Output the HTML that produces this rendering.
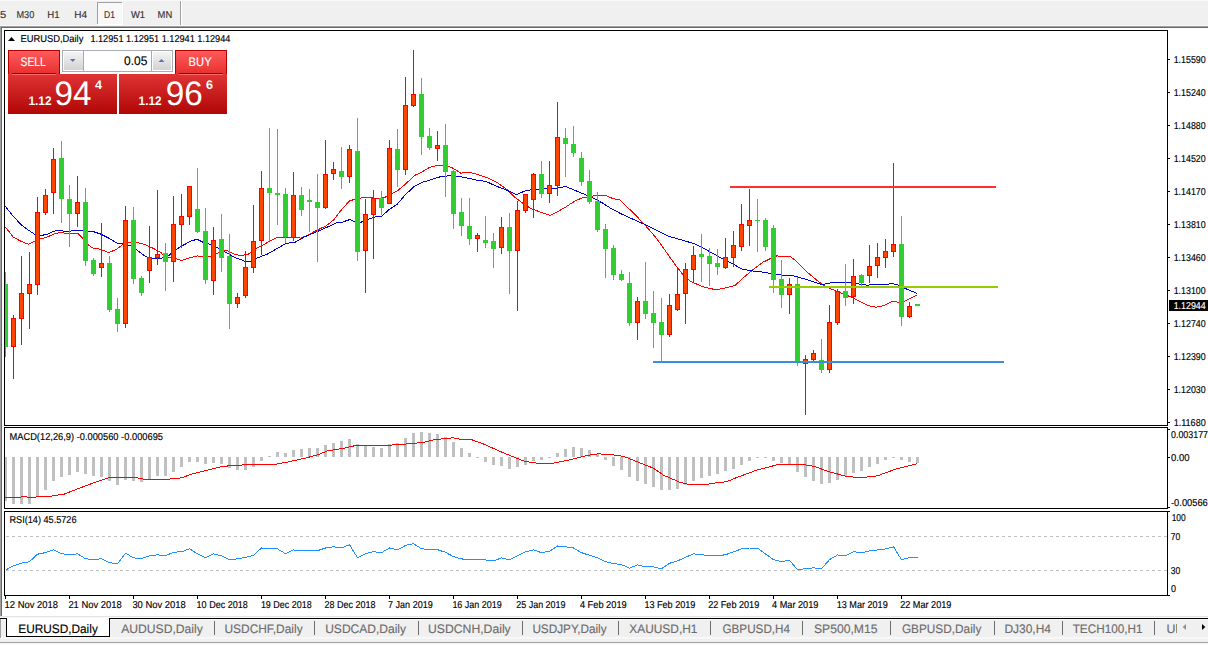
<!DOCTYPE html>
<html><head><meta charset="utf-8"><style>
html,body{margin:0;padding:0;width:1208px;height:645px;overflow:hidden;background:#f0f0f0;font-family:"Liberation Sans", sans-serif;}
svg{display:block;}
</style></head><body>
<svg width="1208" height="645" viewBox="0 0 1208 645">
<rect x="0" y="0" width="1208" height="645" fill="#f0f0f0"/>
<rect x="0" y="0" width="1208" height="1" fill="#f8f8f8"/>
<rect x="97" y="2" width="25" height="22" fill="#f8f8f8"/>
<rect x="97" y="2" width="25" height="1" fill="#a0a0a0"/>
<rect x="97" y="2" width="1" height="22" fill="#a0a0a0"/>
<rect x="122" y="2" width="1" height="23" fill="#ffffff"/>
<rect x="97" y="24" width="26" height="1" fill="#ffffff"/>
<rect x="180" y="1" width="1" height="25" fill="#a0a0a0"/>
<rect x="181" y="1" width="1" height="25" fill="#ffffff"/>
<rect x="0" y="25" width="1208" height="1" fill="#f8f8f8"/>
<rect x="0" y="26" width="1208" height="1" fill="#a0a0a0"/>
<rect x="0" y="27" width="1208" height="1" fill="#696969"/>
<rect x="2" y="28" width="1206" height="588" fill="#ffffff"/>
<rect x="0" y="26" width="1" height="590" fill="#a0a0a0"/>
<rect x="1" y="27" width="1" height="589" fill="#696969"/>
<rect x="0" y="616" width="1208" height="1" fill="#e3e3e3"/>
<rect x="0" y="617" width="1208" height="1" fill="#f8f8f8"/>
<rect x="0" y="618" width="1208" height="1" fill="#000000"/>
<rect x="0" y="619" width="1208" height="1" fill="#f8f8f8"/>
<rect x="0" y="637" width="1208" height="2" fill="#f8f8f8"/>
<rect x="0" y="642" width="1208" height="1" fill="#a0a0a0"/>
<rect x="0" y="643" width="1208" height="2" fill="#f8f8f8"/>
<rect x="0" y="619" width="1" height="19" fill="#a0a0a0"/>
<rect x="6" y="618" width="104" height="19" fill="#000000"/>
<rect x="7" y="618" width="102" height="18" fill="#ffffff"/>
<rect x="4" y="30" width="1164" height="1" fill="#000"/>
<rect x="4" y="425" width="1164" height="1" fill="#000"/>
<rect x="4" y="30" width="1" height="396" fill="#000"/>
<rect x="1167" y="30" width="1" height="396" fill="#000"/>
<rect x="4" y="427" width="1164" height="1" fill="#000"/>
<rect x="4" y="508" width="1164" height="1" fill="#000"/>
<rect x="4" y="427" width="1" height="82" fill="#000"/>
<rect x="1167" y="427" width="1" height="82" fill="#000"/>
<rect x="4" y="511" width="1164" height="1" fill="#000"/>
<rect x="4" y="595" width="1164" height="1" fill="#000"/>
<rect x="4" y="511" width="1" height="85" fill="#000"/>
<rect x="1167" y="511" width="1" height="85" fill="#000"/>
<defs><clipPath id="cm"><rect x="5" y="31" width="1162" height="394"/></clipPath><clipPath id="cd"><rect x="5" y="428" width="1162" height="80"/></clipPath><clipPath id="cr"><rect x="5" y="512" width="1162" height="83"/></clipPath></defs>
<g clip-path="url(#cm)">
<polyline points="5.3,226.8 13.2,237.1 21.2,241.4 28.5,244.3 34.4,241.4 39.7,239.0 46.4,237.4 55.6,233.4 60.9,232.4 66.2,233.4 78.1,233.4 82.1,237.4 88.1,244.7 92.7,248.0 100.7,249.3 108.6,252.6 116.6,249.3 123.2,244.0 129.1,242.0 137.7,242.7 145.7,244.7 153.6,248.6 160.3,252.0 165.6,257.3 173.5,258.0 181.5,260.4 189.4,258.0 197.4,256.0 204.0,256.4 210.6,256.4 218.6,252.7 226.5,250.3 234.5,254.3 239.8,255.3 247.7,254.7 255.7,248.7 263.6,244.7 271.6,240.1 278.2,237.0 286.1,237.5 292.7,236.8 300.7,238.1 307.3,235.5 314.0,231.8 325.9,225.9 333.8,219.9 341.8,209.3 349.7,200.7 355.0,199.4 363.0,197.6 369.6,197.4 378.9,198.7 386.8,196.7 392.1,193.4 397.4,191.0 405.4,184.1 414.6,175.5 422.6,171.6 429.2,167.6 437.2,165.3 445.1,165.3 453.0,168.2 461.0,173.3 465.0,172.2 471.6,172.8 480.9,175.6 488.8,178.3 498.1,183.2 507.4,189.8 515.3,197.7 523.3,203.7 531.2,208.7 540.5,212.1 549.8,215.4 557.7,211.7 565.7,207.0 574.9,201.1 581.6,198.1 588.2,197.1 594.8,195.5 605.4,195.5 613.3,198.7 620.0,200.0 629.3,209.0 638.6,218.3 647.9,228.3 657.2,239.2 666.5,252.4 675.8,265.5 683.6,275.6 691.3,281.8 702.2,286.5 716.1,289.9 728.5,287.2 734.7,285.7 744.0,277.2 753.3,269.4 762.6,262.4 771.9,257.8 776.6,256.0 789.9,256.2 796.5,261.3 808.4,273.2 816.4,279.8 823.0,285.1 829.6,288.4 838.9,292.1 849.5,296.4 857.4,300.3 868.0,305.6 876.0,307.2 883.9,305.6 893.2,301.0 898.5,302.3 903.8,301.7 910.4,298.3 917.0,295.0" fill="none" stroke="#ff0000" stroke-width="1" shape-rendering="crispEdges"/>
<polyline points="5.3,206.3 13.2,216.2 21.2,224.8 27.8,229.7 34.4,234.1 39.7,235.4 46.4,234.7 53.0,231.4 58.3,230.5 66.2,231.4 74.2,230.8 82.1,230.8 92.7,231.4 100.7,234.1 108.6,238.0 116.6,243.0 124.5,243.7 131.1,246.0 137.7,250.6 145.7,256.6 153.6,258.6 161.6,258.2 168.2,256.0 176.2,249.4 184.1,244.7 192.1,240.5 197.4,239.4 204.0,242.7 210.6,244.5 217.3,247.4 225.2,252.0 234.5,257.3 245.1,261.3 250.4,261.3 257.0,258.0 267.6,254.0 276.9,248.7 286.1,243.4 295.4,242.1 304.7,236.8 310.0,234.5 318.0,231.2 327.2,227.2 336.5,222.8 341.8,222.3 349.7,219.6 355.0,221.9 360.3,222.5 368.3,219.2 376.2,216.6 381.5,216.2 389.5,209.3 397.4,204.0 405.4,194.7 414.6,186.1 422.6,182.2 431.9,179.5 439.8,176.9 450.4,175.5 459.7,176.5 470.0,178.6 475.6,179.9 486.2,181.5 495.5,185.8 507.4,190.5 516.7,194.7 524.6,191.1 531.2,189.8 544.5,188.9 557.7,188.1 565.7,186.5 573.6,189.8 584.2,194.2 592.2,197.7 601.4,202.4 610.7,208.3 617.3,211.7 620.0,213.3 632.4,219.0 644.8,224.5 657.2,230.7 669.6,236.6 682.0,240.0 694.4,243.8 706.8,250.0 719.2,257.0 731.6,263.2 742.5,269.4 753.3,271.0 765.7,272.5 776.6,274.9 791.2,275.2 800.5,277.8 809.7,280.5 821.7,284.7 833.6,282.2 841.5,282.2 852.1,283.1 866.7,285.1 876.0,284.7 886.6,284.4 891.9,283.4 897.2,284.7 905.1,288.4 917.0,293.4" fill="none" stroke="#0000cd" stroke-width="1" shape-rendering="crispEdges"/>
<g shape-rendering="crispEdges">
<rect x="5" y="272" width="1" height="85" fill="#32cd32"/>
<rect x="3" y="284" width="5" height="63" fill="#32cd32"/>
<rect x="13" y="315" width="1" height="64" fill="#ff0000"/>
<rect x="11" y="318" width="5" height="29" fill="#ff0000"/>
<rect x="12" y="319" width="3" height="27" fill="#ff4500"/>
<rect x="21" y="256" width="1" height="89" fill="#ff0000"/>
<rect x="19" y="293" width="5" height="26" fill="#ff0000"/>
<rect x="20" y="294" width="3" height="24" fill="#ff4500"/>
<rect x="29" y="252" width="1" height="77" fill="#ff0000"/>
<rect x="27" y="284" width="5" height="10" fill="#ff0000"/>
<rect x="28" y="285" width="3" height="8" fill="#ff4500"/>
<rect x="37" y="197" width="1" height="98" fill="#ff0000"/>
<rect x="35" y="212" width="5" height="73" fill="#ff0000"/>
<rect x="36" y="213" width="3" height="71" fill="#ff4500"/>
<rect x="45" y="189" width="1" height="26" fill="#ff0000"/>
<rect x="43" y="195" width="5" height="18" fill="#ff0000"/>
<rect x="44" y="196" width="3" height="16" fill="#ff4500"/>
<rect x="53" y="148" width="1" height="66" fill="#ff0000"/>
<rect x="51" y="159" width="5" height="34" fill="#ff0000"/>
<rect x="52" y="160" width="3" height="32" fill="#ff4500"/>
<rect x="61" y="141" width="1" height="82" fill="#32cd32"/>
<rect x="59" y="158" width="5" height="41" fill="#32cd32"/>
<rect x="69" y="185" width="1" height="62" fill="#32cd32"/>
<rect x="67" y="199" width="5" height="15" fill="#32cd32"/>
<rect x="77" y="176" width="1" height="51" fill="#ff0000"/>
<rect x="75" y="202" width="5" height="12" fill="#ff0000"/>
<rect x="76" y="203" width="3" height="10" fill="#ff4500"/>
<rect x="85" y="188" width="1" height="78" fill="#32cd32"/>
<rect x="83" y="202" width="5" height="59" fill="#32cd32"/>
<rect x="93" y="258" width="1" height="18" fill="#32cd32"/>
<rect x="91" y="260" width="5" height="14" fill="#32cd32"/>
<rect x="101" y="223" width="1" height="54" fill="#ff0000"/>
<rect x="99" y="263" width="5" height="5" fill="#ff0000"/>
<rect x="100" y="264" width="3" height="3" fill="#ff4500"/>
<rect x="109" y="256" width="1" height="56" fill="#32cd32"/>
<rect x="107" y="263" width="5" height="47" fill="#32cd32"/>
<rect x="117" y="298" width="1" height="34" fill="#32cd32"/>
<rect x="115" y="309" width="5" height="15" fill="#32cd32"/>
<rect x="125" y="206" width="1" height="122" fill="#ff0000"/>
<rect x="123" y="220" width="5" height="104" fill="#ff0000"/>
<rect x="124" y="221" width="3" height="102" fill="#ff4500"/>
<rect x="133" y="207" width="1" height="77" fill="#32cd32"/>
<rect x="131" y="220" width="5" height="59" fill="#32cd32"/>
<rect x="141" y="276" width="1" height="20" fill="#32cd32"/>
<rect x="139" y="278" width="5" height="15" fill="#32cd32"/>
<rect x="149" y="226" width="1" height="57" fill="#ff0000"/>
<rect x="147" y="257" width="5" height="14" fill="#ff0000"/>
<rect x="148" y="258" width="3" height="12" fill="#ff4500"/>
<rect x="157" y="190" width="1" height="75" fill="#ff0000"/>
<rect x="155" y="254" width="5" height="4" fill="#ff0000"/>
<rect x="156" y="255" width="3" height="2" fill="#ff4500"/>
<rect x="165" y="243" width="1" height="48" fill="#32cd32"/>
<rect x="163" y="253" width="5" height="9" fill="#32cd32"/>
<rect x="173" y="196" width="1" height="86" fill="#ff0000"/>
<rect x="171" y="224" width="5" height="38" fill="#ff0000"/>
<rect x="172" y="225" width="3" height="36" fill="#ff4500"/>
<rect x="181" y="194" width="1" height="54" fill="#ff0000"/>
<rect x="179" y="216" width="5" height="9" fill="#ff0000"/>
<rect x="180" y="217" width="3" height="7" fill="#ff4500"/>
<rect x="189" y="186" width="1" height="39" fill="#ff0000"/>
<rect x="187" y="186" width="5" height="31" fill="#ff0000"/>
<rect x="188" y="187" width="3" height="29" fill="#ff4500"/>
<rect x="197" y="168" width="1" height="65" fill="#32cd32"/>
<rect x="195" y="209" width="5" height="23" fill="#32cd32"/>
<rect x="205" y="208" width="1" height="76" fill="#32cd32"/>
<rect x="203" y="231" width="5" height="49" fill="#32cd32"/>
<rect x="213" y="227" width="1" height="68" fill="#ff0000"/>
<rect x="211" y="240" width="5" height="41" fill="#ff0000"/>
<rect x="212" y="241" width="3" height="39" fill="#ff4500"/>
<rect x="221" y="214" width="1" height="58" fill="#32cd32"/>
<rect x="219" y="239" width="5" height="19" fill="#32cd32"/>
<rect x="229" y="234" width="1" height="95" fill="#32cd32"/>
<rect x="227" y="256" width="5" height="48" fill="#32cd32"/>
<rect x="237" y="293" width="1" height="15" fill="#ff0000"/>
<rect x="235" y="297" width="5" height="7" fill="#ff0000"/>
<rect x="236" y="298" width="3" height="5" fill="#ff4500"/>
<rect x="245" y="251" width="1" height="47" fill="#ff0000"/>
<rect x="243" y="267" width="5" height="29" fill="#ff0000"/>
<rect x="244" y="268" width="3" height="27" fill="#ff4500"/>
<rect x="253" y="205" width="1" height="68" fill="#ff0000"/>
<rect x="251" y="241" width="5" height="27" fill="#ff0000"/>
<rect x="252" y="242" width="3" height="25" fill="#ff4500"/>
<rect x="261" y="171" width="1" height="84" fill="#ff0000"/>
<rect x="259" y="188" width="5" height="53" fill="#ff0000"/>
<rect x="260" y="189" width="3" height="51" fill="#ff4500"/>
<rect x="269" y="128" width="1" height="113" fill="#32cd32"/>
<rect x="267" y="188" width="5" height="5" fill="#32cd32"/>
<rect x="277" y="129" width="1" height="96" fill="#32cd32"/>
<rect x="275" y="193" width="5" height="2" fill="#32cd32"/>
<rect x="285" y="188" width="1" height="55" fill="#32cd32"/>
<rect x="283" y="194" width="5" height="43" fill="#32cd32"/>
<rect x="293" y="172" width="1" height="69" fill="#ff0000"/>
<rect x="291" y="195" width="5" height="43" fill="#ff0000"/>
<rect x="292" y="196" width="3" height="41" fill="#ff4500"/>
<rect x="301" y="187" width="1" height="29" fill="#32cd32"/>
<rect x="299" y="195" width="5" height="15" fill="#32cd32"/>
<rect x="309" y="189" width="1" height="43" fill="#32cd32"/>
<rect x="307" y="200" width="5" height="2" fill="#32cd32"/>
<rect x="317" y="174" width="1" height="88" fill="#32cd32"/>
<rect x="315" y="202" width="5" height="6" fill="#32cd32"/>
<rect x="325" y="140" width="1" height="69" fill="#ff0000"/>
<rect x="323" y="174" width="5" height="34" fill="#ff0000"/>
<rect x="324" y="175" width="3" height="32" fill="#ff4500"/>
<rect x="333" y="162" width="1" height="18" fill="#ff0000"/>
<rect x="331" y="169" width="5" height="5" fill="#ff0000"/>
<rect x="332" y="170" width="3" height="3" fill="#ff4500"/>
<rect x="341" y="147" width="1" height="42" fill="#32cd32"/>
<rect x="339" y="171" width="5" height="6" fill="#32cd32"/>
<rect x="349" y="145" width="1" height="38" fill="#ff0000"/>
<rect x="347" y="149" width="5" height="28" fill="#ff0000"/>
<rect x="348" y="150" width="3" height="26" fill="#ff4500"/>
<rect x="357" y="118" width="1" height="143" fill="#32cd32"/>
<rect x="355" y="151" width="5" height="101" fill="#32cd32"/>
<rect x="365" y="199" width="1" height="94" fill="#ff0000"/>
<rect x="363" y="214" width="5" height="37" fill="#ff0000"/>
<rect x="364" y="215" width="3" height="35" fill="#ff4500"/>
<rect x="373" y="190" width="1" height="69" fill="#ff0000"/>
<rect x="371" y="198" width="5" height="17" fill="#ff0000"/>
<rect x="372" y="199" width="3" height="15" fill="#ff4500"/>
<rect x="381" y="191" width="1" height="24" fill="#32cd32"/>
<rect x="379" y="198" width="5" height="10" fill="#32cd32"/>
<rect x="389" y="140" width="1" height="63" fill="#ff0000"/>
<rect x="387" y="148" width="5" height="56" fill="#ff0000"/>
<rect x="388" y="149" width="3" height="54" fill="#ff4500"/>
<rect x="397" y="129" width="1" height="58" fill="#32cd32"/>
<rect x="395" y="149" width="5" height="21" fill="#32cd32"/>
<rect x="405" y="77" width="1" height="98" fill="#ff0000"/>
<rect x="403" y="105" width="5" height="65" fill="#ff0000"/>
<rect x="404" y="106" width="3" height="63" fill="#ff4500"/>
<rect x="413" y="50" width="1" height="57" fill="#ff0000"/>
<rect x="411" y="94" width="5" height="12" fill="#ff0000"/>
<rect x="412" y="95" width="3" height="10" fill="#ff4500"/>
<rect x="421" y="78" width="1" height="77" fill="#32cd32"/>
<rect x="419" y="94" width="5" height="43" fill="#32cd32"/>
<rect x="429" y="128" width="1" height="22" fill="#32cd32"/>
<rect x="427" y="136" width="5" height="12" fill="#32cd32"/>
<rect x="437" y="131" width="1" height="30" fill="#ff0000"/>
<rect x="435" y="145" width="5" height="4" fill="#ff0000"/>
<rect x="436" y="146" width="3" height="2" fill="#ff4500"/>
<rect x="445" y="124" width="1" height="73" fill="#32cd32"/>
<rect x="443" y="145" width="5" height="27" fill="#32cd32"/>
<rect x="453" y="170" width="1" height="59" fill="#32cd32"/>
<rect x="451" y="171" width="5" height="43" fill="#32cd32"/>
<rect x="461" y="198" width="1" height="38" fill="#32cd32"/>
<rect x="459" y="212" width="5" height="14" fill="#32cd32"/>
<rect x="469" y="198" width="1" height="47" fill="#32cd32"/>
<rect x="467" y="226" width="5" height="13" fill="#32cd32"/>
<rect x="477" y="233" width="1" height="19" fill="#ff0000"/>
<rect x="475" y="235" width="5" height="4" fill="#ff0000"/>
<rect x="476" y="236" width="3" height="2" fill="#ff4500"/>
<rect x="485" y="216" width="1" height="32" fill="#32cd32"/>
<rect x="483" y="240" width="5" height="3" fill="#32cd32"/>
<rect x="493" y="233" width="1" height="35" fill="#32cd32"/>
<rect x="491" y="241" width="5" height="8" fill="#32cd32"/>
<rect x="501" y="217" width="1" height="37" fill="#ff0000"/>
<rect x="499" y="227" width="5" height="21" fill="#ff0000"/>
<rect x="500" y="228" width="3" height="19" fill="#ff4500"/>
<rect x="509" y="213" width="1" height="81" fill="#32cd32"/>
<rect x="507" y="227" width="5" height="24" fill="#32cd32"/>
<rect x="517" y="201" width="1" height="110" fill="#ff0000"/>
<rect x="515" y="210" width="5" height="41" fill="#ff0000"/>
<rect x="516" y="211" width="3" height="39" fill="#ff4500"/>
<rect x="525" y="194" width="1" height="19" fill="#ff0000"/>
<rect x="523" y="194" width="5" height="17" fill="#ff0000"/>
<rect x="524" y="195" width="3" height="15" fill="#ff4500"/>
<rect x="533" y="173" width="1" height="45" fill="#ff0000"/>
<rect x="531" y="174" width="5" height="26" fill="#ff0000"/>
<rect x="532" y="175" width="3" height="24" fill="#ff4500"/>
<rect x="541" y="161" width="1" height="37" fill="#32cd32"/>
<rect x="539" y="174" width="5" height="20" fill="#32cd32"/>
<rect x="549" y="161" width="1" height="42" fill="#ff0000"/>
<rect x="547" y="185" width="5" height="9" fill="#ff0000"/>
<rect x="548" y="186" width="3" height="7" fill="#ff4500"/>
<rect x="557" y="102" width="1" height="94" fill="#ff0000"/>
<rect x="555" y="137" width="5" height="49" fill="#ff0000"/>
<rect x="556" y="138" width="3" height="47" fill="#ff4500"/>
<rect x="565" y="128" width="1" height="49" fill="#32cd32"/>
<rect x="563" y="138" width="5" height="6" fill="#32cd32"/>
<rect x="573" y="126" width="1" height="31" fill="#32cd32"/>
<rect x="571" y="144" width="5" height="9" fill="#32cd32"/>
<rect x="581" y="152" width="1" height="34" fill="#32cd32"/>
<rect x="579" y="158" width="5" height="24" fill="#32cd32"/>
<rect x="589" y="170" width="1" height="34" fill="#32cd32"/>
<rect x="587" y="181" width="5" height="21" fill="#32cd32"/>
<rect x="597" y="192" width="1" height="40" fill="#32cd32"/>
<rect x="595" y="201" width="5" height="29" fill="#32cd32"/>
<rect x="605" y="224" width="1" height="54" fill="#32cd32"/>
<rect x="603" y="229" width="5" height="20" fill="#32cd32"/>
<rect x="613" y="245" width="1" height="35" fill="#32cd32"/>
<rect x="611" y="248" width="5" height="27" fill="#32cd32"/>
<rect x="621" y="270" width="1" height="11" fill="#32cd32"/>
<rect x="619" y="274" width="5" height="6" fill="#32cd32"/>
<rect x="629" y="272" width="1" height="54" fill="#32cd32"/>
<rect x="627" y="283" width="5" height="40" fill="#32cd32"/>
<rect x="637" y="297" width="1" height="43" fill="#ff0000"/>
<rect x="635" y="301" width="5" height="22" fill="#ff0000"/>
<rect x="636" y="302" width="3" height="20" fill="#ff4500"/>
<rect x="645" y="262" width="1" height="57" fill="#32cd32"/>
<rect x="643" y="301" width="5" height="13" fill="#32cd32"/>
<rect x="653" y="291" width="1" height="57" fill="#32cd32"/>
<rect x="651" y="313" width="5" height="10" fill="#32cd32"/>
<rect x="661" y="298" width="1" height="63" fill="#32cd32"/>
<rect x="659" y="322" width="5" height="13" fill="#32cd32"/>
<rect x="669" y="294" width="1" height="43" fill="#ff0000"/>
<rect x="667" y="305" width="5" height="30" fill="#ff0000"/>
<rect x="668" y="306" width="3" height="28" fill="#ff4500"/>
<rect x="677" y="269" width="1" height="42" fill="#ff0000"/>
<rect x="675" y="294" width="5" height="16" fill="#ff0000"/>
<rect x="676" y="295" width="3" height="14" fill="#ff4500"/>
<rect x="685" y="263" width="1" height="61" fill="#ff0000"/>
<rect x="683" y="269" width="5" height="25" fill="#ff0000"/>
<rect x="684" y="270" width="3" height="23" fill="#ff4500"/>
<rect x="693" y="246" width="1" height="36" fill="#ff0000"/>
<rect x="691" y="255" width="5" height="15" fill="#ff0000"/>
<rect x="692" y="256" width="3" height="13" fill="#ff4500"/>
<rect x="701" y="234" width="1" height="48" fill="#32cd32"/>
<rect x="699" y="254" width="5" height="3" fill="#32cd32"/>
<rect x="709" y="248" width="1" height="38" fill="#32cd32"/>
<rect x="707" y="256" width="5" height="8" fill="#32cd32"/>
<rect x="717" y="249" width="1" height="26" fill="#32cd32"/>
<rect x="715" y="263" width="5" height="4" fill="#32cd32"/>
<rect x="725" y="238" width="1" height="31" fill="#ff0000"/>
<rect x="723" y="257" width="5" height="11" fill="#ff0000"/>
<rect x="724" y="258" width="3" height="9" fill="#ff4500"/>
<rect x="733" y="231" width="1" height="36" fill="#ff0000"/>
<rect x="731" y="245" width="5" height="13" fill="#ff0000"/>
<rect x="732" y="246" width="3" height="11" fill="#ff4500"/>
<rect x="741" y="204" width="1" height="47" fill="#ff0000"/>
<rect x="739" y="224" width="5" height="23" fill="#ff0000"/>
<rect x="740" y="225" width="3" height="21" fill="#ff4500"/>
<rect x="749" y="189" width="1" height="57" fill="#ff0000"/>
<rect x="747" y="220" width="5" height="6" fill="#ff0000"/>
<rect x="748" y="221" width="3" height="4" fill="#ff4500"/>
<rect x="757" y="199" width="1" height="53" fill="#32cd32"/>
<rect x="755" y="220" width="5" height="1" fill="#32cd32"/>
<rect x="765" y="218" width="1" height="33" fill="#32cd32"/>
<rect x="763" y="220" width="5" height="27" fill="#32cd32"/>
<rect x="773" y="225" width="1" height="68" fill="#32cd32"/>
<rect x="771" y="228" width="5" height="52" fill="#32cd32"/>
<rect x="781" y="260" width="1" height="48" fill="#32cd32"/>
<rect x="779" y="279" width="5" height="16" fill="#32cd32"/>
<rect x="789" y="278" width="1" height="36" fill="#ff0000"/>
<rect x="787" y="284" width="5" height="11" fill="#ff0000"/>
<rect x="788" y="285" width="3" height="9" fill="#ff4500"/>
<rect x="797" y="277" width="1" height="89" fill="#32cd32"/>
<rect x="795" y="284" width="5" height="79" fill="#32cd32"/>
<rect x="805" y="355" width="1" height="60" fill="#ff0000"/>
<rect x="803" y="359" width="5" height="5" fill="#ff0000"/>
<rect x="804" y="360" width="3" height="3" fill="#ff4500"/>
<rect x="813" y="350" width="1" height="11" fill="#ff0000"/>
<rect x="811" y="353" width="5" height="7" fill="#ff0000"/>
<rect x="812" y="354" width="3" height="5" fill="#ff4500"/>
<rect x="821" y="339" width="1" height="34" fill="#32cd32"/>
<rect x="819" y="360" width="5" height="10" fill="#32cd32"/>
<rect x="829" y="305" width="1" height="68" fill="#ff0000"/>
<rect x="827" y="322" width="5" height="48" fill="#ff0000"/>
<rect x="828" y="323" width="3" height="46" fill="#ff4500"/>
<rect x="837" y="289" width="1" height="36" fill="#ff0000"/>
<rect x="835" y="291" width="5" height="32" fill="#ff0000"/>
<rect x="836" y="292" width="3" height="30" fill="#ff4500"/>
<rect x="845" y="264" width="1" height="42" fill="#32cd32"/>
<rect x="843" y="291" width="5" height="7" fill="#32cd32"/>
<rect x="853" y="259" width="1" height="45" fill="#ff0000"/>
<rect x="851" y="276" width="5" height="21" fill="#ff0000"/>
<rect x="852" y="277" width="3" height="19" fill="#ff4500"/>
<rect x="861" y="274" width="1" height="12" fill="#32cd32"/>
<rect x="859" y="275" width="5" height="8" fill="#32cd32"/>
<rect x="869" y="245" width="1" height="38" fill="#ff0000"/>
<rect x="867" y="266" width="5" height="10" fill="#ff0000"/>
<rect x="868" y="267" width="3" height="8" fill="#ff4500"/>
<rect x="877" y="243" width="1" height="35" fill="#ff0000"/>
<rect x="875" y="257" width="5" height="9" fill="#ff0000"/>
<rect x="876" y="258" width="3" height="7" fill="#ff4500"/>
<rect x="885" y="239" width="1" height="29" fill="#ff0000"/>
<rect x="883" y="251" width="5" height="7" fill="#ff0000"/>
<rect x="884" y="252" width="3" height="5" fill="#ff4500"/>
<rect x="893" y="163" width="1" height="94" fill="#ff0000"/>
<rect x="891" y="244" width="5" height="8" fill="#ff0000"/>
<rect x="892" y="245" width="3" height="6" fill="#ff4500"/>
<rect x="901" y="216" width="1" height="110" fill="#32cd32"/>
<rect x="899" y="244" width="5" height="73" fill="#32cd32"/>
<rect x="909" y="302" width="1" height="16" fill="#ff0000"/>
<rect x="907" y="306" width="5" height="11" fill="#ff0000"/>
<rect x="908" y="307" width="3" height="9" fill="#ff4500"/>
<rect x="917" y="304" width="1" height="2" fill="#32cd32"/>
<rect x="915" y="304" width="5" height="2" fill="#32cd32"/>
</g>
<rect x="730" y="186" width="266" height="2" fill="#ff3030"/>
<rect x="769" y="286" width="229" height="2" fill="#96cc00"/>
<rect x="653" y="361" width="351" height="2" fill="#3a8ee0"/>
</g>
<g clip-path="url(#cd)" shape-rendering="crispEdges">
<rect x="4" y="457" width="3" height="44" fill="#c0c0c0"/>
<rect x="12" y="457" width="3" height="47" fill="#c0c0c0"/>
<rect x="20" y="457" width="3" height="47" fill="#c0c0c0"/>
<rect x="28" y="457" width="3" height="47" fill="#c0c0c0"/>
<rect x="36" y="457" width="3" height="39" fill="#c0c0c0"/>
<rect x="44" y="457" width="3" height="33" fill="#c0c0c0"/>
<rect x="52" y="457" width="3" height="24" fill="#c0c0c0"/>
<rect x="60" y="457" width="3" height="20" fill="#c0c0c0"/>
<rect x="68" y="457" width="3" height="18" fill="#c0c0c0"/>
<rect x="76" y="457" width="3" height="15" fill="#c0c0c0"/>
<rect x="84" y="457" width="3" height="17" fill="#c0c0c0"/>
<rect x="92" y="457" width="3" height="19" fill="#c0c0c0"/>
<rect x="100" y="457" width="3" height="20" fill="#c0c0c0"/>
<rect x="108" y="457" width="3" height="24" fill="#c0c0c0"/>
<rect x="116" y="457" width="3" height="28" fill="#c0c0c0"/>
<rect x="124" y="457" width="3" height="23" fill="#c0c0c0"/>
<rect x="132" y="457" width="3" height="24" fill="#c0c0c0"/>
<rect x="140" y="457" width="3" height="25" fill="#c0c0c0"/>
<rect x="148" y="457" width="3" height="22" fill="#c0c0c0"/>
<rect x="156" y="457" width="3" height="19" fill="#c0c0c0"/>
<rect x="164" y="457" width="3" height="19" fill="#c0c0c0"/>
<rect x="172" y="457" width="3" height="15" fill="#c0c0c0"/>
<rect x="180" y="457" width="3" height="10" fill="#c0c0c0"/>
<rect x="188" y="457" width="3" height="5" fill="#c0c0c0"/>
<rect x="196" y="457" width="3" height="5" fill="#c0c0c0"/>
<rect x="204" y="457" width="3" height="7" fill="#c0c0c0"/>
<rect x="212" y="457" width="3" height="6" fill="#c0c0c0"/>
<rect x="220" y="457" width="3" height="7" fill="#c0c0c0"/>
<rect x="228" y="457" width="3" height="11" fill="#c0c0c0"/>
<rect x="236" y="457" width="3" height="13" fill="#c0c0c0"/>
<rect x="244" y="457" width="3" height="13" fill="#c0c0c0"/>
<rect x="252" y="457" width="3" height="10" fill="#c0c0c0"/>
<rect x="260" y="457" width="3" height="4" fill="#c0c0c0"/>
<rect x="268" y="456" width="3" height="1" fill="#c0c0c0"/>
<rect x="276" y="452" width="3" height="5" fill="#c0c0c0"/>
<rect x="284" y="453" width="3" height="4" fill="#c0c0c0"/>
<rect x="292" y="450" width="3" height="7" fill="#c0c0c0"/>
<rect x="300" y="449" width="3" height="8" fill="#c0c0c0"/>
<rect x="308" y="448" width="3" height="9" fill="#c0c0c0"/>
<rect x="316" y="448" width="3" height="9" fill="#c0c0c0"/>
<rect x="324" y="445" width="3" height="12" fill="#c0c0c0"/>
<rect x="332" y="443" width="3" height="14" fill="#c0c0c0"/>
<rect x="340" y="441" width="3" height="16" fill="#c0c0c0"/>
<rect x="348" y="439" width="3" height="18" fill="#c0c0c0"/>
<rect x="356" y="444" width="3" height="13" fill="#c0c0c0"/>
<rect x="364" y="446" width="3" height="11" fill="#c0c0c0"/>
<rect x="372" y="447" width="3" height="10" fill="#c0c0c0"/>
<rect x="380" y="448" width="3" height="9" fill="#c0c0c0"/>
<rect x="388" y="444" width="3" height="13" fill="#c0c0c0"/>
<rect x="396" y="443" width="3" height="14" fill="#c0c0c0"/>
<rect x="404" y="438" width="3" height="19" fill="#c0c0c0"/>
<rect x="412" y="433" width="3" height="24" fill="#c0c0c0"/>
<rect x="420" y="432" width="3" height="25" fill="#c0c0c0"/>
<rect x="428" y="433" width="3" height="24" fill="#c0c0c0"/>
<rect x="436" y="434" width="3" height="23" fill="#c0c0c0"/>
<rect x="444" y="437" width="3" height="20" fill="#c0c0c0"/>
<rect x="452" y="442" width="3" height="15" fill="#c0c0c0"/>
<rect x="460" y="448" width="3" height="9" fill="#c0c0c0"/>
<rect x="468" y="453" width="3" height="4" fill="#c0c0c0"/>
<rect x="476" y="457" width="3" height="1" fill="#c0c0c0"/>
<rect x="484" y="457" width="3" height="5" fill="#c0c0c0"/>
<rect x="492" y="457" width="3" height="8" fill="#c0c0c0"/>
<rect x="500" y="457" width="3" height="9" fill="#c0c0c0"/>
<rect x="508" y="457" width="3" height="12" fill="#c0c0c0"/>
<rect x="516" y="457" width="3" height="10" fill="#c0c0c0"/>
<rect x="524" y="457" width="3" height="8" fill="#c0c0c0"/>
<rect x="532" y="457" width="3" height="4" fill="#c0c0c0"/>
<rect x="540" y="457" width="3" height="3" fill="#c0c0c0"/>
<rect x="548" y="457" width="3" height="1" fill="#c0c0c0"/>
<rect x="556" y="453" width="3" height="4" fill="#c0c0c0"/>
<rect x="564" y="449" width="3" height="8" fill="#c0c0c0"/>
<rect x="572" y="447" width="3" height="10" fill="#c0c0c0"/>
<rect x="580" y="448" width="3" height="9" fill="#c0c0c0"/>
<rect x="588" y="450" width="3" height="7" fill="#c0c0c0"/>
<rect x="596" y="454" width="3" height="3" fill="#c0c0c0"/>
<rect x="604" y="457" width="3" height="3" fill="#c0c0c0"/>
<rect x="612" y="457" width="3" height="9" fill="#c0c0c0"/>
<rect x="620" y="457" width="3" height="13" fill="#c0c0c0"/>
<rect x="628" y="457" width="3" height="20" fill="#c0c0c0"/>
<rect x="636" y="457" width="3" height="24" fill="#c0c0c0"/>
<rect x="644" y="457" width="3" height="27" fill="#c0c0c0"/>
<rect x="652" y="457" width="3" height="30" fill="#c0c0c0"/>
<rect x="660" y="457" width="3" height="33" fill="#c0c0c0"/>
<rect x="668" y="457" width="3" height="33" fill="#c0c0c0"/>
<rect x="676" y="457" width="3" height="32" fill="#c0c0c0"/>
<rect x="684" y="457" width="3" height="28" fill="#c0c0c0"/>
<rect x="692" y="457" width="3" height="24" fill="#c0c0c0"/>
<rect x="700" y="457" width="3" height="21" fill="#c0c0c0"/>
<rect x="708" y="457" width="3" height="19" fill="#c0c0c0"/>
<rect x="716" y="457" width="3" height="17" fill="#c0c0c0"/>
<rect x="724" y="457" width="3" height="14" fill="#c0c0c0"/>
<rect x="732" y="457" width="3" height="12" fill="#c0c0c0"/>
<rect x="740" y="457" width="3" height="8" fill="#c0c0c0"/>
<rect x="748" y="457" width="3" height="4" fill="#c0c0c0"/>
<rect x="756" y="457" width="3" height="1" fill="#c0c0c0"/>
<rect x="764" y="457" width="3" height="1" fill="#c0c0c0"/>
<rect x="772" y="457" width="3" height="4" fill="#c0c0c0"/>
<rect x="780" y="457" width="3" height="6" fill="#c0c0c0"/>
<rect x="788" y="457" width="3" height="8" fill="#c0c0c0"/>
<rect x="796" y="457" width="3" height="15" fill="#c0c0c0"/>
<rect x="804" y="457" width="3" height="20" fill="#c0c0c0"/>
<rect x="812" y="457" width="3" height="24" fill="#c0c0c0"/>
<rect x="820" y="457" width="3" height="27" fill="#c0c0c0"/>
<rect x="828" y="457" width="3" height="26" fill="#c0c0c0"/>
<rect x="836" y="457" width="3" height="23" fill="#c0c0c0"/>
<rect x="844" y="457" width="3" height="19" fill="#c0c0c0"/>
<rect x="852" y="457" width="3" height="16" fill="#c0c0c0"/>
<rect x="860" y="457" width="3" height="14" fill="#c0c0c0"/>
<rect x="868" y="457" width="3" height="10" fill="#c0c0c0"/>
<rect x="876" y="457" width="3" height="7" fill="#c0c0c0"/>
<rect x="884" y="457" width="3" height="3" fill="#c0c0c0"/>
<rect x="892" y="457" width="3" height="1" fill="#c0c0c0"/>
<rect x="900" y="457" width="3" height="3" fill="#c0c0c0"/>
<rect x="908" y="457" width="3" height="5" fill="#c0c0c0"/>
<rect x="916" y="457" width="3" height="6" fill="#c0c0c0"/>
</g>
<g clip-path="url(#cd)">
<polyline points="5.5,498.0 16.5,497.4 25.5,496.6 30.5,498.0 38.5,496.6 48.5,496.6 64.5,494.0 79.5,488.1 95.5,482.1 108.5,477.8 137.5,477.8 143.5,479.1 169.5,479.1 181.5,477.8 191.5,474.2 207.5,470.2 221.5,466.6 229.5,465.8 240.5,465.8 242.5,464.8 272.5,464.8 288.5,461.9 304.5,458.3 317.5,454.9 327.5,450.9 343.5,448.3 353.5,446.0 385.5,445.4 401.5,444.4 423.5,442.4 433.5,439.8 447.5,438.4 453.5,437.8 458.5,439.0 472.5,440.0 484.5,444.4 504.5,453.3 524.5,461.3 540.5,463.6 551.5,463.6 567.5,460.3 587.5,455.3 597.5,453.9 609.5,454.3 623.5,456.3 637.5,461.9 653.5,468.2 663.5,475.2 679.5,482.1 689.5,484.7 704.5,484.7 714.5,483.1 726.5,481.7 736.5,477.6 756.5,470.2 779.5,464.2 801.5,464.2 813.5,466.2 829.5,471.8 845.5,476.2 859.5,477.8 877.5,475.8 895.5,469.2 917.5,463.6" fill="none" stroke="#ff0000" stroke-width="1" shape-rendering="crispEdges"/>
</g>
<g clip-path="url(#cr)">
<line x1="0" y1="536.5" x2="1167" y2="536.5" stroke="#c0c0c0" stroke-width="1" stroke-dasharray="3,3"/>
<line x1="0" y1="570.5" x2="1167" y2="570.5" stroke="#c0c0c0" stroke-width="1" stroke-dasharray="3,3"/>
<polyline points="5.5,570.1 13.5,565.7 21.5,563.1 29.5,561.7 37.5,554.2 45.5,552.6 53.5,549.8 61.5,553.6 69.5,554.8 77.5,553.8 85.5,558.7 93.5,559.7 101.5,558.7 109.5,562.7 117.5,563.7 125.5,553.2 133.5,557.8 141.5,558.7 149.5,555.8 157.5,554.8 165.5,555.8 173.5,552.2 181.5,551.8 189.5,548.8 197.5,553.8 205.5,557.8 213.5,553.8 221.5,555.8 229.5,559.7 237.5,558.8 245.5,557.3 253.5,555.3 261.5,548.0 269.5,548.7 277.5,548.9 285.5,553.7 293.5,549.9 301.5,550.9 309.5,550.9 317.5,550.7 325.5,548.0 333.5,546.8 341.5,547.8 349.5,544.8 357.5,557.7 365.5,553.7 373.5,551.7 381.5,552.7 389.5,548.0 397.5,549.9 405.5,545.4 413.5,543.8 421.5,548.7 429.5,549.9 437.5,549.7 445.5,552.3 453.5,556.7 461.5,558.9 469.5,559.8 477.5,559.9 485.5,559.9 493.5,560.9 501.5,557.9 509.5,559.7 517.5,555.7 525.5,551.9 533.5,549.9 541.5,552.7 549.5,551.3 557.5,546.0 565.5,546.8 573.5,548.0 581.5,552.7 589.5,555.3 597.5,557.9 605.5,561.7 613.5,563.6 621.5,564.6 629.5,568.2 637.5,564.8 645.5,566.8 653.5,566.8 661.5,568.8 669.5,563.3 677.5,560.9 685.5,557.3 693.5,553.9 701.5,554.7 709.5,555.9 717.5,555.9 725.5,554.7 733.5,551.9 741.5,548.9 749.5,548.0 757.5,548.0 765.5,553.9 773.5,559.7 781.5,561.7 789.5,560.3 797.5,569.6 805.5,568.8 813.5,567.8 821.5,568.8 829.5,559.7 837.5,554.9 845.5,555.9 853.5,551.7 861.5,552.7 869.5,550.9 877.5,549.9 885.5,548.9 893.5,546.8 901.5,559.7 909.5,557.7 917.5,557.7" fill="none" stroke="#1e90ff" stroke-width="1" shape-rendering="crispEdges"/>
</g>
<defs><linearGradient id="gh" x1="0" y1="0" x2="0" y2="1"><stop offset="0" stop-color="#ff5a5a"/><stop offset="1" stop-color="#e83030"/></linearGradient><linearGradient id="gp" x1="0" y1="0" x2="0" y2="1"><stop offset="0" stop-color="#e03434"/><stop offset="1" stop-color="#b00606"/></linearGradient><linearGradient id="gb" x1="0" y1="0" x2="0" y2="1"><stop offset="0" stop-color="#f4f4f4"/><stop offset="1" stop-color="#d2d2d2"/></linearGradient></defs>
<g shape-rendering="crispEdges">
<rect x="8" y="50" width="52" height="24" fill="#b00000"/>
<rect x="9" y="51" width="50" height="23" fill="url(#gh)"/>
<rect x="175" y="50" width="52" height="24" fill="#b00000"/>
<rect x="176" y="51" width="50" height="23" fill="url(#gh)"/>
<rect x="8" y="74" width="109" height="40" fill="url(#gp)"/>
<rect x="119" y="74" width="108" height="40" fill="url(#gp)"/>
<rect x="12" y="73" width="44" height="1" fill="#8b0000"/>
<rect x="12" y="74" width="44" height="1" fill="#ff6a6a"/>
<rect x="179" y="73" width="44" height="1" fill="#8b0000"/>
<rect x="179" y="74" width="44" height="1" fill="#ff6a6a"/>
<rect x="62" y="50" width="111" height="22" fill="#a9aab2"/>
<rect x="63" y="51" width="109" height="20" fill="#ffffff"/>
<rect x="64" y="52" width="19" height="18" fill="url(#gb)"/>
<rect x="83" y="51" width="1" height="20" fill="#a9aab2"/>
<rect x="151" y="51" width="1" height="20" fill="#a9aab2"/>
<rect x="153" y="52" width="18" height="18" fill="url(#gb)"/>
</g>
<polygon points="70,59 75.5,59 72.75,62" fill="#5a6ec0"/>
<polygon points="158.5,62 164.5,62 161.5,59" fill="#5a6ec0"/>
<g font-family='"Liberation Sans", sans-serif' text-rendering="geometricPrecision">
<text x="20.5" y="66" font-size="12.5" fill="#fff" stroke="#fff" stroke-width="0.15" textLength="25.4" lengthAdjust="spacingAndGlyphs">SELL</text>
<text x="188.6" y="66" font-size="12.5" fill="#fff" stroke="#fff" stroke-width="0.15" textLength="23" lengthAdjust="spacingAndGlyphs">BUY</text>
<text x="124" y="65" font-size="12.5" fill="#000" stroke="#000" stroke-width="0.15" textLength="23.4" lengthAdjust="spacingAndGlyphs">0.05</text>
<text x="28.5" y="105" font-size="12.5" fill="#fff" textLength="23" lengthAdjust="spacingAndGlyphs" font-weight="bold">1.12</text>
<text x="54.6" y="105" font-size="34" fill="#fff" textLength="37" lengthAdjust="spacingAndGlyphs">94</text>
<text x="95" y="89" font-size="12.5" fill="#fff" textLength="7" lengthAdjust="spacingAndGlyphs" font-weight="bold">4</text>
<text x="138.6" y="105" font-size="12.5" fill="#fff" textLength="23" lengthAdjust="spacingAndGlyphs" font-weight="bold">1.12</text>
<text x="165.8" y="105" font-size="34" fill="#fff" textLength="37" lengthAdjust="spacingAndGlyphs">96</text>
<text x="206" y="89" font-size="12.5" fill="#fff" textLength="7" lengthAdjust="spacingAndGlyphs" font-weight="bold">6</text>
<polygon points="8,41 15,41 11.5,37" fill="#000"/>
<text x="20.4" y="42" font-size="10.0" fill="#000" stroke="#000" stroke-width="0.15" textLength="63" lengthAdjust="spacingAndGlyphs">EURUSD,Daily</text>
<text x="90.4" y="42" font-size="10.0" fill="#000" stroke="#000" stroke-width="0.15" textLength="140" lengthAdjust="spacingAndGlyphs">1.12951 1.12951 1.12941 1.12944</text>
<text x="-15.5" y="18" font-size="10.0" fill="#333" stroke="#333" stroke-width="0.15" textLength="21.8" lengthAdjust="spacingAndGlyphs">M15</text>
<text x="16.5" y="18" font-size="10.0" fill="#333" stroke="#333" stroke-width="0.15" textLength="17.8" lengthAdjust="spacingAndGlyphs">M30</text>
<text x="47.2" y="18" font-size="10.0" fill="#333" stroke="#333" stroke-width="0.15" textLength="12.3" lengthAdjust="spacingAndGlyphs">H1</text>
<text x="74.2" y="18" font-size="10.0" fill="#333" stroke="#333" stroke-width="0.15" textLength="12.8" lengthAdjust="spacingAndGlyphs">H4</text>
<text x="104" y="18" font-size="10.0" fill="#333" stroke="#333" stroke-width="0.15" textLength="10.9" lengthAdjust="spacingAndGlyphs">D1</text>
<text x="130.9" y="18" font-size="10.0" fill="#333" stroke="#333" stroke-width="0.15" textLength="14.1" lengthAdjust="spacingAndGlyphs">W1</text>
<text x="157.6" y="18" font-size="10.0" fill="#333" stroke="#333" stroke-width="0.15" textLength="14.6" lengthAdjust="spacingAndGlyphs">MN</text>
<g shape-rendering="crispEdges">
<rect x="1168" y="59" width="2" height="1" fill="#000"/>
<rect x="1168" y="92" width="2" height="1" fill="#000"/>
<rect x="1168" y="125" width="2" height="1" fill="#000"/>
<rect x="1168" y="158" width="2" height="1" fill="#000"/>
<rect x="1168" y="191" width="2" height="1" fill="#000"/>
<rect x="1168" y="224" width="2" height="1" fill="#000"/>
<rect x="1168" y="257" width="2" height="1" fill="#000"/>
<rect x="1168" y="290" width="2" height="1" fill="#000"/>
<rect x="1168" y="323" width="2" height="1" fill="#000"/>
<rect x="1168" y="356" width="2" height="1" fill="#000"/>
<rect x="1168" y="389" width="2" height="1" fill="#000"/>
<rect x="1168" y="422" width="2" height="1" fill="#000"/>
</g>
<text x="1173.7" y="63" font-size="10.0" fill="#000" stroke="#000" stroke-width="0.15" textLength="32" lengthAdjust="spacingAndGlyphs">1.15590</text>
<text x="1173.7" y="96" font-size="10.0" fill="#000" stroke="#000" stroke-width="0.15" textLength="32" lengthAdjust="spacingAndGlyphs">1.15240</text>
<text x="1173.7" y="129" font-size="10.0" fill="#000" stroke="#000" stroke-width="0.15" textLength="32" lengthAdjust="spacingAndGlyphs">1.14880</text>
<text x="1173.7" y="162" font-size="10.0" fill="#000" stroke="#000" stroke-width="0.15" textLength="32" lengthAdjust="spacingAndGlyphs">1.14520</text>
<text x="1173.7" y="195" font-size="10.0" fill="#000" stroke="#000" stroke-width="0.15" textLength="32" lengthAdjust="spacingAndGlyphs">1.14170</text>
<text x="1173.7" y="228" font-size="10.0" fill="#000" stroke="#000" stroke-width="0.15" textLength="32" lengthAdjust="spacingAndGlyphs">1.13810</text>
<text x="1173.7" y="261" font-size="10.0" fill="#000" stroke="#000" stroke-width="0.15" textLength="32" lengthAdjust="spacingAndGlyphs">1.13460</text>
<text x="1173.7" y="294" font-size="10.0" fill="#000" stroke="#000" stroke-width="0.15" textLength="32" lengthAdjust="spacingAndGlyphs">1.13100</text>
<text x="1173.7" y="327" font-size="10.0" fill="#000" stroke="#000" stroke-width="0.15" textLength="32" lengthAdjust="spacingAndGlyphs">1.12740</text>
<text x="1173.7" y="360" font-size="10.0" fill="#000" stroke="#000" stroke-width="0.15" textLength="32" lengthAdjust="spacingAndGlyphs">1.12390</text>
<text x="1173.7" y="393" font-size="10.0" fill="#000" stroke="#000" stroke-width="0.15" textLength="32" lengthAdjust="spacingAndGlyphs">1.12030</text>
<text x="1173.7" y="426" font-size="10.0" fill="#000" stroke="#000" stroke-width="0.15" textLength="32" lengthAdjust="spacingAndGlyphs">1.11680</text>
<rect x="1169" y="300" width="39" height="11" fill="#000"/>
<text x="1173.7" y="309" font-size="10.0" fill="#fff" stroke="#fff" stroke-width="0.15" textLength="32" lengthAdjust="spacingAndGlyphs">1.12944</text>
<rect x="1168" y="429" width="2" height="1" fill="#000"/>
<rect x="1168" y="457" width="2" height="1" fill="#000"/>
<rect x="1168" y="507" width="2" height="1" fill="#000"/>
<text x="1171" y="438" font-size="10.0" fill="#000" stroke="#000" stroke-width="0.15" textLength="37" lengthAdjust="spacingAndGlyphs">0.003177</text>
<text x="1171" y="461" font-size="10.0" fill="#000" stroke="#000" stroke-width="0.15" textLength="18.5" lengthAdjust="spacingAndGlyphs">0.00</text>
<text x="1171" y="506" font-size="10.0" fill="#000" stroke="#000" stroke-width="0.15" textLength="42" lengthAdjust="spacingAndGlyphs">-0.005667</text>
<rect x="1168" y="511" width="2" height="1" fill="#000"/>
<rect x="1168" y="595" width="2" height="1" fill="#000"/>
<text x="1171.7" y="521" font-size="10.0" fill="#000" stroke="#000" stroke-width="0.15" textLength="14" lengthAdjust="spacingAndGlyphs">100</text>
<text x="1170.7" y="540" font-size="10.0" fill="#000" stroke="#000" stroke-width="0.15" textLength="9.5" lengthAdjust="spacingAndGlyphs">70</text>
<text x="1170.7" y="574" font-size="10.0" fill="#000" stroke="#000" stroke-width="0.15" textLength="9.5" lengthAdjust="spacingAndGlyphs">30</text>
<text x="1171" y="592" font-size="10.0" fill="#000" stroke="#000" stroke-width="0.15" textLength="5" lengthAdjust="spacingAndGlyphs">0</text>
<text x="9.5" y="440" font-size="10.0" fill="#000" stroke="#000" stroke-width="0.15" textLength="153.5" lengthAdjust="spacingAndGlyphs">MACD(12,26,9) -0.000560 -0.000695</text>
<text x="9.5" y="523" font-size="10.0" fill="#000" stroke="#000" stroke-width="0.15" textLength="67" lengthAdjust="spacingAndGlyphs">RSI(14) 45.5726</text>
<rect x="5" y="596" width="1" height="3" fill="#000"/>
<text x="4.6" y="608" font-size="10.0" fill="#000" stroke="#000" stroke-width="0.15" textLength="53.4" lengthAdjust="spacingAndGlyphs">12 Nov 2018</text>
<rect x="69" y="596" width="1" height="3" fill="#000"/>
<text x="68.4" y="608" font-size="10.0" fill="#000" stroke="#000" stroke-width="0.15" textLength="53.3" lengthAdjust="spacingAndGlyphs">21 Nov 2018</text>
<rect x="133" y="596" width="1" height="3" fill="#000"/>
<text x="132.4" y="608" font-size="10.0" fill="#000" stroke="#000" stroke-width="0.15" textLength="53.3" lengthAdjust="spacingAndGlyphs">30 Nov 2018</text>
<rect x="197" y="596" width="1" height="3" fill="#000"/>
<text x="196.6" y="608" font-size="10.0" fill="#000" stroke="#000" stroke-width="0.15" textLength="51.3" lengthAdjust="spacingAndGlyphs">10 Dec 2018</text>
<rect x="261" y="596" width="1" height="3" fill="#000"/>
<text x="260.9" y="608" font-size="10.0" fill="#000" stroke="#000" stroke-width="0.15" textLength="50.8" lengthAdjust="spacingAndGlyphs">19 Dec 2018</text>
<rect x="325" y="596" width="1" height="3" fill="#000"/>
<text x="324.4" y="608" font-size="10.0" fill="#000" stroke="#000" stroke-width="0.15" textLength="51" lengthAdjust="spacingAndGlyphs">28 Dec 2018</text>
<rect x="389" y="596" width="1" height="3" fill="#000"/>
<text x="388.1" y="608" font-size="10.0" fill="#000" stroke="#000" stroke-width="0.15" textLength="44.6" lengthAdjust="spacingAndGlyphs">7 Jan 2019</text>
<rect x="453" y="596" width="1" height="3" fill="#000"/>
<text x="452.4" y="608" font-size="10.0" fill="#000" stroke="#000" stroke-width="0.15" textLength="49.3" lengthAdjust="spacingAndGlyphs">16 Jan 2019</text>
<rect x="517" y="596" width="1" height="3" fill="#000"/>
<text x="516.3" y="608" font-size="10.0" fill="#000" stroke="#000" stroke-width="0.15" textLength="49.2" lengthAdjust="spacingAndGlyphs">25 Jan 2019</text>
<rect x="581" y="596" width="1" height="3" fill="#000"/>
<text x="579.9" y="608" font-size="10.0" fill="#000" stroke="#000" stroke-width="0.15" textLength="46.8" lengthAdjust="spacingAndGlyphs">4 Feb 2019</text>
<rect x="645" y="596" width="1" height="3" fill="#000"/>
<text x="644.4" y="608" font-size="10.0" fill="#000" stroke="#000" stroke-width="0.15" textLength="51" lengthAdjust="spacingAndGlyphs">13 Feb 2019</text>
<rect x="709" y="596" width="1" height="3" fill="#000"/>
<text x="708.2" y="608" font-size="10.0" fill="#000" stroke="#000" stroke-width="0.15" textLength="51" lengthAdjust="spacingAndGlyphs">22 Feb 2019</text>
<rect x="773" y="596" width="1" height="3" fill="#000"/>
<text x="772.1" y="608" font-size="10.0" fill="#000" stroke="#000" stroke-width="0.15" textLength="46.3" lengthAdjust="spacingAndGlyphs">4 Mar 2019</text>
<rect x="837" y="596" width="1" height="3" fill="#000"/>
<text x="836.7" y="608" font-size="10.0" fill="#000" stroke="#000" stroke-width="0.15" textLength="51" lengthAdjust="spacingAndGlyphs">13 Mar 2019</text>
<rect x="901" y="596" width="1" height="3" fill="#000"/>
<text x="900.2" y="608" font-size="10.0" fill="#000" stroke="#000" stroke-width="0.15" textLength="51.2" lengthAdjust="spacingAndGlyphs">22 Mar 2019</text>
<text x="18.3" y="633" font-size="12.4" fill="#000" stroke="#000" stroke-width="0.15" textLength="79.5" lengthAdjust="spacingAndGlyphs">EURUSD,Daily</text>
<text x="121.2" y="633" font-size="12.4" fill="#6d6d6d" stroke="#6d6d6d" stroke-width="0.15" textLength="81.6" lengthAdjust="spacingAndGlyphs">AUDUSD,Daily</text>
<text x="224.5" y="633" font-size="12.4" fill="#6d6d6d" stroke="#6d6d6d" stroke-width="0.15" textLength="78.1" lengthAdjust="spacingAndGlyphs">USDCHF,Daily</text>
<text x="325.2" y="633" font-size="12.4" fill="#6d6d6d" stroke="#6d6d6d" stroke-width="0.15" textLength="80.8" lengthAdjust="spacingAndGlyphs">USDCAD,Daily</text>
<text x="428" y="633" font-size="12.4" fill="#6d6d6d" stroke="#6d6d6d" stroke-width="0.15" textLength="82.7" lengthAdjust="spacingAndGlyphs">USDCNH,Daily</text>
<text x="532.4" y="633" font-size="12.4" fill="#6d6d6d" stroke="#6d6d6d" stroke-width="0.15" textLength="74.2" lengthAdjust="spacingAndGlyphs">USDJPY,Daily</text>
<text x="629.3" y="633" font-size="12.4" fill="#6d6d6d" stroke="#6d6d6d" stroke-width="0.15" textLength="68.1" lengthAdjust="spacingAndGlyphs">XAUUSD,H1</text>
<text x="722.5" y="633" font-size="12.4" fill="#6d6d6d" stroke="#6d6d6d" stroke-width="0.15" textLength="67.5" lengthAdjust="spacingAndGlyphs">GBPUSD,H4</text>
<text x="813.9" y="633" font-size="12.4" fill="#6d6d6d" stroke="#6d6d6d" stroke-width="0.15" textLength="63.6" lengthAdjust="spacingAndGlyphs">SP500,M15</text>
<text x="901.9" y="633" font-size="12.4" fill="#6d6d6d" stroke="#6d6d6d" stroke-width="0.15" textLength="79.4" lengthAdjust="spacingAndGlyphs">GBPUSD,Daily</text>
<text x="1004.4" y="633" font-size="12.4" fill="#6d6d6d" stroke="#6d6d6d" stroke-width="0.15" textLength="46.6" lengthAdjust="spacingAndGlyphs">DJ30,H4</text>
<text x="1072.7" y="633" font-size="12.4" fill="#6d6d6d" stroke="#6d6d6d" stroke-width="0.15" textLength="69.8" lengthAdjust="spacingAndGlyphs">TECH100,H1</text>
<rect x="214" y="621" width="1" height="14" fill="#6d6d6d"/>
<rect x="314" y="621" width="1" height="14" fill="#6d6d6d"/>
<rect x="418" y="621" width="1" height="14" fill="#6d6d6d"/>
<rect x="522" y="621" width="1" height="14" fill="#6d6d6d"/>
<rect x="618" y="621" width="1" height="14" fill="#6d6d6d"/>
<rect x="710" y="621" width="1" height="14" fill="#6d6d6d"/>
<rect x="802" y="621" width="1" height="14" fill="#6d6d6d"/>
<rect x="890" y="621" width="1" height="14" fill="#6d6d6d"/>
<rect x="994" y="621" width="1" height="14" fill="#6d6d6d"/>
<rect x="1062" y="621" width="1" height="14" fill="#6d6d6d"/>
<rect x="1154" y="621" width="1" height="14" fill="#6d6d6d"/>
<clipPath id="cu"><rect x="1160" y="615" width="15.5" height="25"/></clipPath>
<text x="1166.5" y="633" font-size="12.4" fill="#6d6d6d" stroke="#6d6d6d" stroke-width="0.15" clip-path="url(#cu)">UK</text>
<rect x="1176" y="624" width="1" height="9" fill="#9a8a7a"/>
<polygon points="1186,624 1186,630 1182.7,627" fill="#909090"/>
<polygon points="1202,624 1202,630 1205.3,627" fill="#000"/>
</g>
</svg>
</body></html>
